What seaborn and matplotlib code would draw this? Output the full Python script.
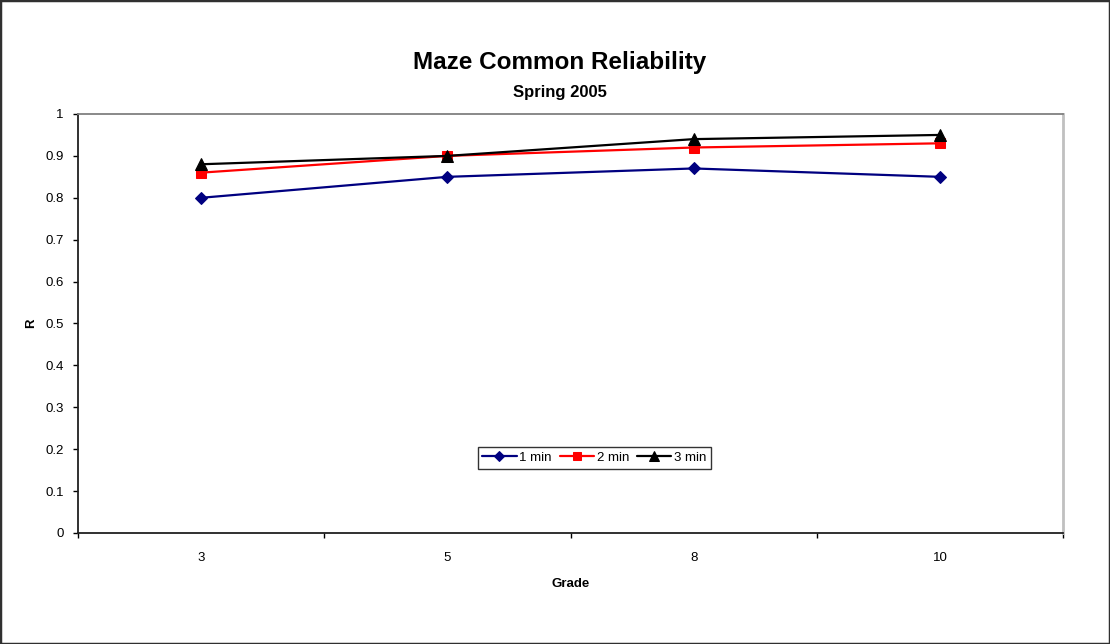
import matplotlib
matplotlib.use("Agg")
import matplotlib.pyplot as plt
from matplotlib.patches import Rectangle
from matplotlib.ticker import FixedLocator, NullFormatter
import seaborn as sns
import pandas as pd

grades = ["3", "5", "8", "10"]
one_min = [0.80, 0.85, 0.87, 0.85]
two_min = [0.86, 0.90, 0.92, 0.93]
three_min = [0.88, 0.90, 0.94, 0.95]
series_names = ["1 min", "2 min", "3 min"]

rows = []
for name, vals in zip(series_names, [one_min, two_min, three_min]):
    for i, (g, v) in enumerate(zip(grades, vals)):
        rows.append({"pos": i, "Grade": g, "R": v, "Series": name})
df = pd.DataFrame(rows)

sns.set_style("white")
plt.rcParams["font.family"] = ["Liberation Sans", "DejaVu Sans"]
plt.rcParams["text.color"] = "black"
plt.rcParams["axes.labelcolor"] = "black"
plt.rcParams["xtick.color"] = "black"
plt.rcParams["ytick.color"] = "black"

fig = plt.figure(figsize=(11.1, 6.44), dpi=100)
ax = fig.add_axes([0.0703, 0.1724, 0.8874, 0.6506])

palette = {"1 min": "#000080", "2 min": "#ff0000", "3 min": "#000000"}
markers = {"1 min": "D", "2 min": "s", "3 min": "^"}
sizes = {"1 min": 6.5, "2 min": 7.5, "3 min": 8.5}

for name in series_names:
    sub = df[df["Series"] == name]
    sns.lineplot(data=sub, x="pos", y="R", color=palette[name], marker=markers[name],
                 markersize=sizes[name], markeredgecolor=palette[name], linewidth=1.6,
                 label=name, ax=ax, estimator=None)

ax.set_xlim(-0.5, len(grades) - 0.5)
ax.set_ylim(0, 1)
ax.set_yticks([i / 10 for i in range(11)])
ax.set_yticklabels(["0", "0.1", "0.2", "0.3", "0.4", "0.5", "0.6", "0.7", "0.8", "0.9", "1"])

# category labels at the centres, tick marks at the category boundaries
ax.set_xticks(range(len(grades)))
ax.set_xticklabels(grades)
ax.xaxis.set_minor_locator(FixedLocator([i - 0.5 for i in range(len(grades) + 1)]))
ax.xaxis.set_minor_formatter(NullFormatter())
ax.tick_params(axis="x", which="major", length=0, pad=14, labelsize=9.5)
ax.tick_params(axis="x", which="minor", length=3.8, width=1, direction="out", color="black", bottom=True)
ax.tick_params(axis="y", length=3.8, width=1, direction="out", left=True, labelsize=9.5, pad=6.5)

for side in ["left", "bottom"]:
    ax.spines[side].set_color("#202020")
    ax.spines[side].set_linewidth(1.3)
ax.spines["top"].set_color("#808080")
ax.spines["top"].set_linewidth(1.3)
ax.spines["right"].set_color("#c0c0c0")
ax.spines["right"].set_linewidth(2)
for s in ax.spines.values():
    s.set_visible(True)

ax.set_xlabel("Grade", fontsize=9.5, fontweight="bold", labelpad=10)
ax.set_ylabel("R", fontsize=9.5, fontweight="bold", labelpad=6)

fig.text(0.5045, 0.903, "Maze Common Reliability", ha="center", va="center",
         fontsize=17.5, fontweight="bold")
fig.text(0.5045, 0.856, "Spring 2005", ha="center", va="center",
         fontsize=12, fontweight="bold")

leg = ax.legend(loc="center", bbox_to_anchor=(0.524, 0.179), ncol=3, frameon=True,
                fancybox=False, edgecolor="black", fontsize=9.5, handlelength=2.6,
                columnspacing=0.6, handletextpad=0.2, borderpad=0.35, borderaxespad=0,
                markerscale=0.85)
leg.get_frame().set_linewidth(1.0)

fig.patches.append(Rectangle((0, 0), 1, 1, transform=fig.transFigure, fill=False,
                             edgecolor="#303030", linewidth=2.5))

fig.savefig("out.png", dpi=100, facecolor="white")
